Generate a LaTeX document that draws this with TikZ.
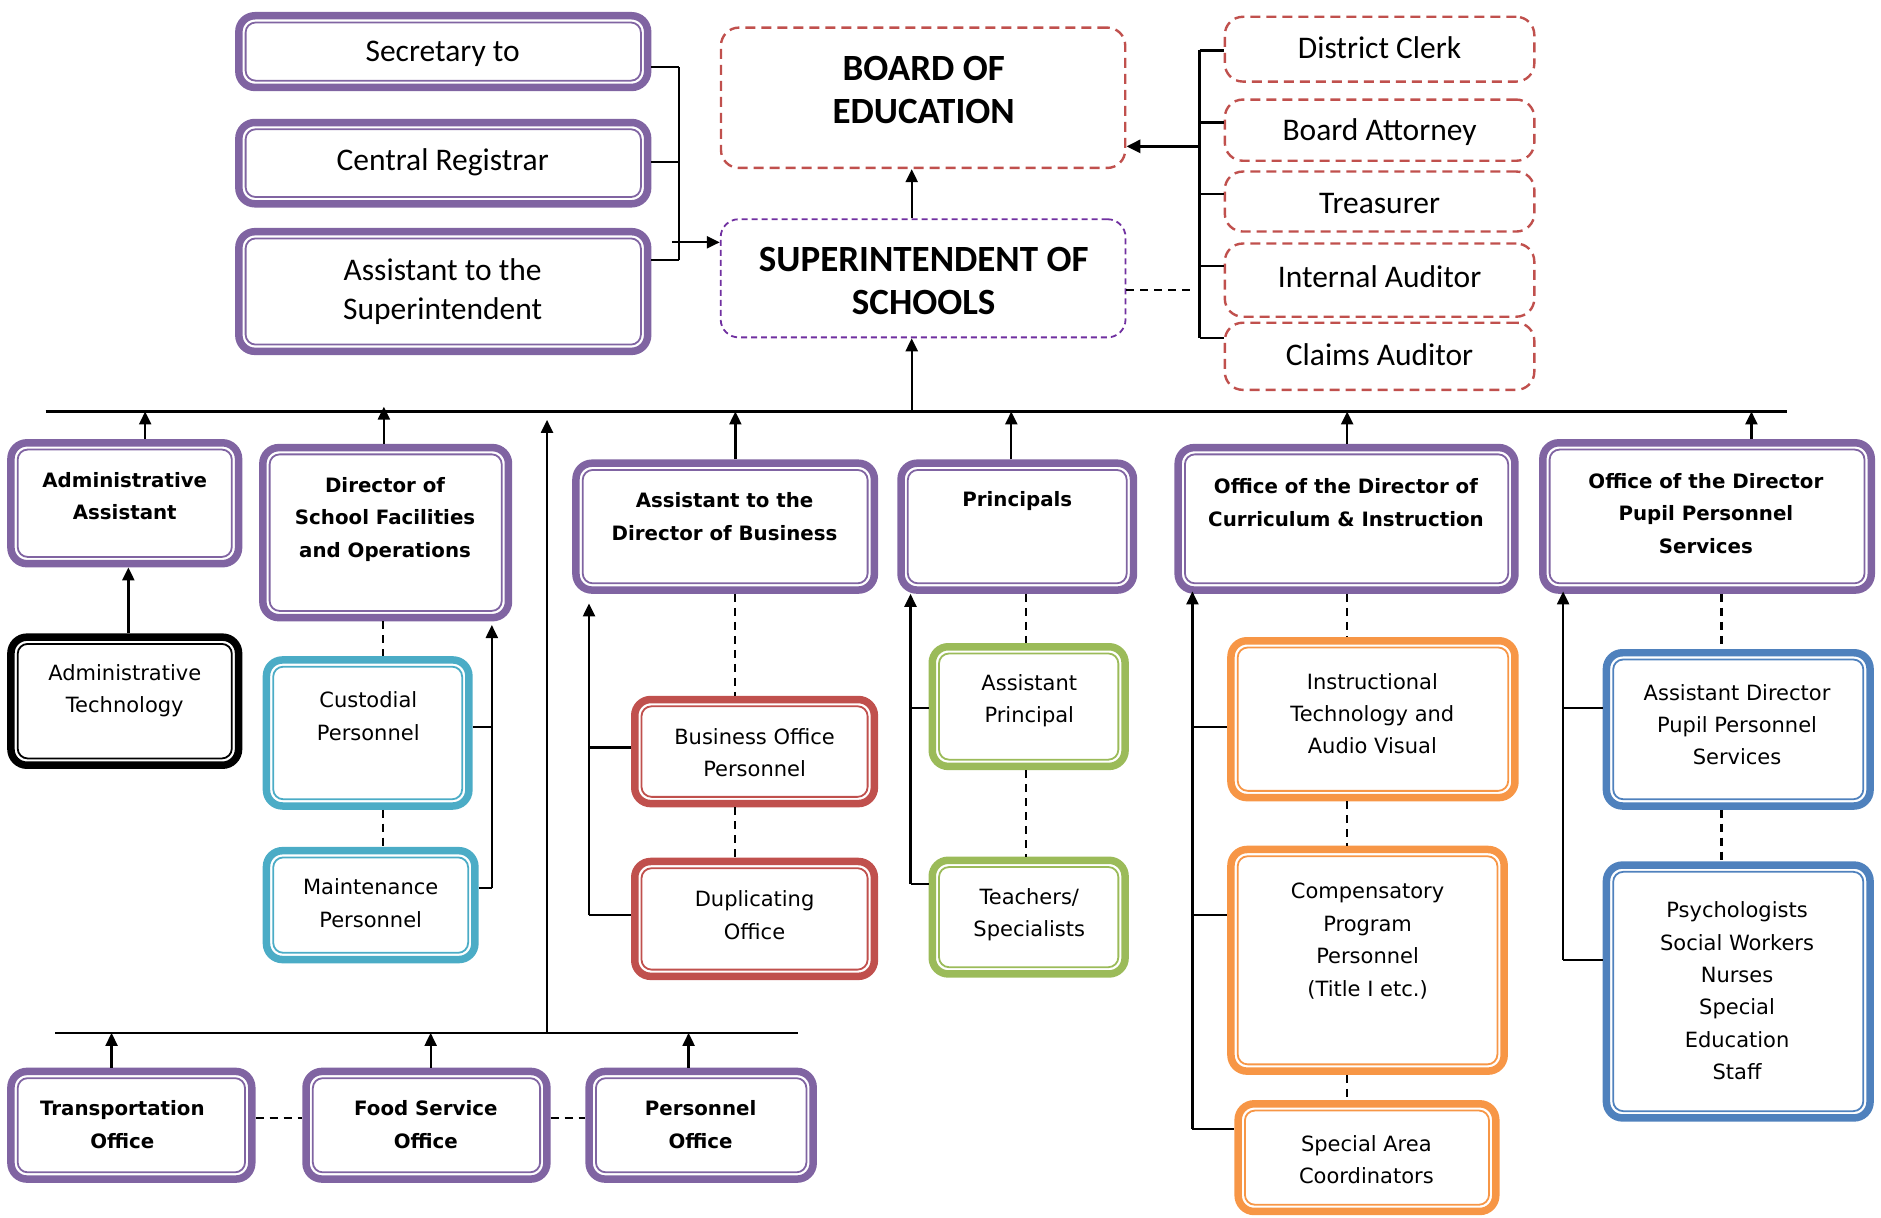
\documentclass[tikz,border=0pt]{standalone}
\usepackage{fontspec}
\setmainfont{Carlito}
\newfontfamily\lowf{DejaVu Sans}
\usetikzlibrary{arrows.meta}
\definecolor{cpur}{HTML}{8064A2}
\definecolor{cteal}{HTML}{4BACC6}
\definecolor{cred}{HTML}{C0504D}
\definecolor{cgrn}{HTML}{9BBB59}
\definecolor{corg}{HTML}{F79646}
\definecolor{cblu}{HTML}{4F81BD}
\definecolor{csup}{HTML}{7030A0}
\tikzset{
  obox/.style={rectangle, rounded corners=16pt, line width=7.5pt, inner sep=0pt},
  dbox/.style={rectangle, rounded corners=18pt, line width=2.4pt, inner sep=0pt, dash pattern=on 10pt off 6pt},
  topt/.style={font=\fontsize{31.5}{39}\selectfont, align=center, inner sep=0pt},
  bigt/.style={font=\bfseries\fontsize{37}{43}\selectfont, align=center, inner sep=0pt},
  boldt/.style={font=\lowf\bfseries\fontsize{19.8}{32.4}\selectfont, align=center, inner sep=0pt},
  regt/.style={font=\lowf\fontsize{21}{32.4}\selectfont, align=center, inner sep=0pt},
  ln/.style={line width=2.3pt},
  arr/.style={line width=2.3pt, -{Triangle[width=12pt,length=13pt]}},
  dl/.style={line width=2.2pt, dash pattern=on 8pt off 6pt}
}
\newcommand\orgbox[6]{%
  \node[obox, draw=#2, minimum width={(#5-#3)*1.2pt-7.5pt}, minimum height={(#6-#4)*1.2pt-7.5pt}] (#1) at ({(#3+#5)/2},{(#4+#6)/2}) {};
  \draw[draw=#2, line width=1.8pt, rounded corners=10pt] ([shift={(10.5pt,-10.5pt)}]#1.north west) rectangle ([shift={(-10.5pt,10.5pt)}]#1.south east);
}
\newcommand\dshbx[6]{%
  \node[dbox, draw=#2, minimum width={(#5-#3)*1.2pt-2.4pt}, minimum height={(#6-#4)*1.2pt-2.4pt}] (#1) at ({(#3+#5)/2},{(#4+#6)/2}) {};
}
\begin{document}
\begin{tikzpicture}[x=1.2pt, y=-1.2pt]
\useasboundingbox (0,0) rectangle (1568,1014.5);
% ---------- top left
\orgbox{sec}{cpur}{196}{10}{543}{76}
\orgbox{reg}{cpur}{196}{99}{543}{173}
\orgbox{ats}{cpur}{196}{190}{543}{296}
\node[topt] (tsec) at (369,45) {Secretary to};
\node[topt] (treg) at (369,135) {Central Registrar};
\node[topt] (tats) at (369,243) {Assistant to the\\Superintendent};
% ---------- board / super
\dshbx{board}{cred}{600}{22}{939}{141}
\node[dbox, draw=csup, line width=1.8pt, dash pattern=on 6pt off 4pt, minimum width={339*1.2pt-1.8pt}, minimum height={100*1.2pt-1.8pt}] (sup) at (769.5,232) {};
\node[bigt] (tboard) at (770,75) {BOARD OF\\EDUCATION};
\node[bigt] (tsup) at (770,234) {SUPERINTENDENT OF\\SCHOOLS};
% ---------- right dashed boxes
\dshbx{dc}{cred}{1020}{13}{1280}{69}
\dshbx{ba}{cred}{1020}{82}{1280}{135}
\dshbx{tr}{cred}{1020}{142}{1280}{194}
\dshbx{ia}{cred}{1020}{202}{1280}{265}
\dshbx{ca}{cred}{1020}{268}{1280}{326}
\node[topt] (tdc) at (1150,40) {District Clerk};
\node[topt] (tba) at (1150,110) {Board Attorney};
\node[topt] (ttr) at (1150,170) {Treasurer};
\node[topt] (tia) at (1150,231) {Internal Auditor};
\node[topt] (tca) at (1150,296) {Claims Auditor};
% ---------- row 2
\orgbox{aa}{cpur}{6}{366}{202}{473}
\orgbox{dsf}{cpur}{216}{370}{427}{518}
\orgbox{adb}{cpur}{477}{383}{732}{495}
\orgbox{pri}{cpur}{748}{383}{948}{495}
\orgbox{occ}{cpur}{979}{370}{1266}{495}
\orgbox{opp}{cpur}{1283}{366}{1563}{495}
\node[boldt] (taa) at (104,413.5) {Administrative\\Assistant};
\node[boldt] (tdsf) at (321,433) {Director of\\School Facilities\\and Operations};
\node[boldt] (tadb) at (604,430.5) {Assistant to the\\Director of Business};
\node[boldt] (tpri) at (848,418) {Principals};
\node[boldt] (tocc) at (1122,419) {Office of the Director of\\Curriculum \& Instruction};
\node[boldt] (topp) at (1422,428) {Office of the Director\\Pupil Personnel\\Services};
% ---------- lower boxes
\orgbox{at}{black}{6}{528}{202}{641}
\orgbox{cus}{cteal}{219}{547}{394}{675}
\orgbox{mai}{cteal}{219}{706}{399}{803}
\orgbox{bop}{cred}{526}{580}{732}{673}
\orgbox{dup}{cred}{526}{715}{732}{817}
\orgbox{ap}{cgrn}{774}{536}{941}{642}
\orgbox{tea}{cgrn}{774}{714}{941}{815}
\orgbox{itav}{corg}{1023}{531}{1266}{668}
\orgbox{cpp}{corg}{1023}{705}{1257}{896}
\orgbox{sac}{corg}{1029}{917}{1250}{1013}
\orgbox{adpp}{cblu}{1336}{541}{1562}{675}
\orgbox{psy}{cblu}{1336}{718}{1562}{935}
\node[regt] (tat) at (104,576) {Administrative\\Technology};
\node[regt] (tcus) at (307,597) {Custodial\\Personnel};
\node[regt] (tmai) at (309,753) {Maintenance\\Personnel};
\node[regt] (tbop) at (629,627.5) {Business Office\\Personnel};
\node[regt] (tdup) at (629,763) {Duplicating\\Office};
\node[regt] (tap) at (858,584) {Assistant\\Principal};
\node[regt] (ttea) at (858,762.5) {Teachers/\\Specialists};
\node[regt] (titav) at (1144,595) {Instructional\\Technology and\\Audio Visual};
\node[regt] (tcpp) at (1140,784.5) {Compensatory\\Program\\Personnel\\(Title I etc.)};
\node[regt] (tsac) at (1139,966.5) {Special Area\\Coordinators};
\node[regt] (tadpp) at (1448,604) {Assistant Director\\Pupil Personnel\\Services};
\node[regt] (tpsy) at (1448,826) {Psychologists\\Social Workers\\Nurses\\Special\\Education\\Staff};
% ---------- bottom boxes
\orgbox{tro}{cpur}{6}{890}{213}{986}
\orgbox{fso}{cpur}{252}{890}{459}{986}
\orgbox{peo}{cpur}{488}{890}{681}{986}
\node[boldt] (ttro) at (102,937.5) {Transportation\\Office};
\node[boldt] (tfso) at (355,937.5) {Food Service\\Office};
\node[boldt] (tpeo) at (584,937.5) {Personnel\\Office};
% ---------- coordinates
\coordinate (bA) at (566,56); \coordinate (bB) at (566,135); \coordinate (bC) at (566,217);
\coordinate (aS) at (560,202);
\coordinate (x760) at (760,0);
\coordinate (rA) at (1000,42); \coordinate (rB) at (1000,102); \coordinate (rC) at (1000,162);
\coordinate (rD) at (1000,222); \coordinate (rE) at (1000,282);
\coordinate (rM) at (1000,122); \coordinate (rS) at (995,242);
\coordinate (hL) at (38,343); \coordinate (hR) at (1490,343);
\coordinate (x121) at (121,0); \coordinate (dsfT) at (320,339);
\coordinate (x613) at (613,0); \coordinate (x843) at (843,0);
\coordinate (x1123) at (1123,0); \coordinate (x1460) at (1460,0);
\coordinate (vB) at (456,861); \coordinate (vT) at (456,350);
\coordinate (bL) at (46,861); \coordinate (bR) at (665,861);
\coordinate (x93) at (93,0); \coordinate (x359) at (359,0); \coordinate (x574) at (574,0);
\coordinate (y932) at (0,932);
\coordinate (x107) at (107,0);
\coordinate (x319) at (319,0);
\coordinate (f1) at (410,606); \coordinate (f2) at (410,740); \coordinate (fT) at (410,521);
\coordinate (g1) at (491,623); \coordinate (g2) at (491,763); \coordinate (gT) at (491,503);
\coordinate (p1) at (759,590); \coordinate (p2) at (759,737); \coordinate (pT) at (759,495);
\coordinate (x855) at (855,0);
\coordinate (q1) at (994,606); \coordinate (q2) at (994,763); \coordinate (q3) at (994,941); \coordinate (qT) at (994,493);
\coordinate (u1) at (1303,590); \coordinate (u2) at (1303,800); \coordinate (uT) at (1303,493);
\coordinate (x1435) at (1435,0);
% ---------- top connectors
\draw[ln] (bA) -- (bC);
\draw[ln] (sec.east|-bA) -- (bA);
\draw[ln] (reg.east|-bB) -- (bB);
\draw[ln] (ats.east|-bC) -- (bC);
\draw[arr] (aS) -- (sup.west|-aS);
\draw[arr] (sup.north-|x760) -- (board.south-|x760);
\draw[ln] (rA) -- (rE);
\draw[ln] (rA) -- (dc.west|-rA);
\draw[ln] (rB) -- (ba.west|-rB);
\draw[ln] (rC) -- (tr.west|-rC);
\draw[ln] (rD) -- (ia.west|-rD);
\draw[ln] (rE) -- (ca.west|-rE);
\draw[line width=3.2pt, -{Triangle[width=13pt,length=14pt]}] (rM) -- (board.east|-rM);
\draw[dl] (sup.east|-rS) -- (rS);
% ---------- main line
\draw[ln] (hL) -- (hR);
\draw[arr] (x760|-hL) -- (sup.south-|x760);
\draw[arr] (aa.north-|x121) -- (x121|-hL);
\draw[arr] (dsf.north-|dsfT) -- (dsfT);
\draw[arr] (adb.north-|x613) -- (x613|-hL);
\draw[arr] (pri.north-|x843) -- (x843|-hL);
\draw[arr] (occ.north-|x1123) -- (x1123|-hL);
\draw[arr] (opp.north-|x1460) -- (x1460|-hL);
\draw[arr] (vB) -- (vT);
% ---------- bottom
\draw[ln] (bL) -- (bR);
\draw[arr] (tro.north-|x93) -- (x93|-bL);
\draw[arr] (fso.north-|x359) -- (x359|-bL);
\draw[arr] (peo.north-|x574) -- (x574|-bL);
\draw[dl] (tro.east|-y932) -- (fso.west|-y932);
\draw[dl] (fso.east|-y932) -- (peo.west|-y932);
% ---------- admin
\draw[arr] (at.north-|x107) -- (aa.south-|x107);
% ---------- facilities
\draw[dl] (dsf.south-|x319) -- (cus.north-|x319);
\draw[dl] (cus.south-|x319) -- (mai.north-|x319);
\draw[ln] (cus.east|-f1) -- (f1);
\draw[ln] (mai.east|-f2) -- (f2);
\draw[arr] (f2) -- (fT);
% ---------- business
\draw[dl] (adb.south-|x613) -- (bop.north-|x613);
\draw[dl] (bop.south-|x613) -- (dup.north-|x613);
\draw[ln] (g1) -- (bop.west|-g1);
\draw[ln] (g2) -- (dup.west|-g2);
\draw[arr] (g2) -- (gT);
% ---------- principals
\draw[dl] (pri.south-|x855) -- (ap.north-|x855);
\draw[dl] (ap.south-|x855) -- (tea.north-|x855);
\draw[ln] (p1) -- (ap.west|-p1);
\draw[ln] (p2) -- (tea.west|-p2);
\draw[arr] (p2) -- (pT);
% ---------- curriculum
\draw[dl] (occ.south-|x1123) -- (itav.north-|x1123);
\draw[dl] (itav.south-|x1123) -- (cpp.north-|x1123);
\draw[dl] (cpp.south-|x1123) -- (sac.north-|x1123);
\draw[ln] (q1) -- (itav.west|-q1);
\draw[ln] (q2) -- (cpp.west|-q2);
\draw[ln] (q3) -- (sac.west|-q3);
\draw[arr] (q3) -- (qT);
% ---------- pupil
\draw[dl] (opp.south-|x1435) -- (adpp.north-|x1435);
\draw[dl] (adpp.south-|x1435) -- (psy.north-|x1435);
\draw[ln] (u1) -- (adpp.west|-u1);
\draw[ln] (u2) -- (psy.west|-u2);
\draw[arr] (u2) -- (uT);
\end{tikzpicture}
\end{document}
